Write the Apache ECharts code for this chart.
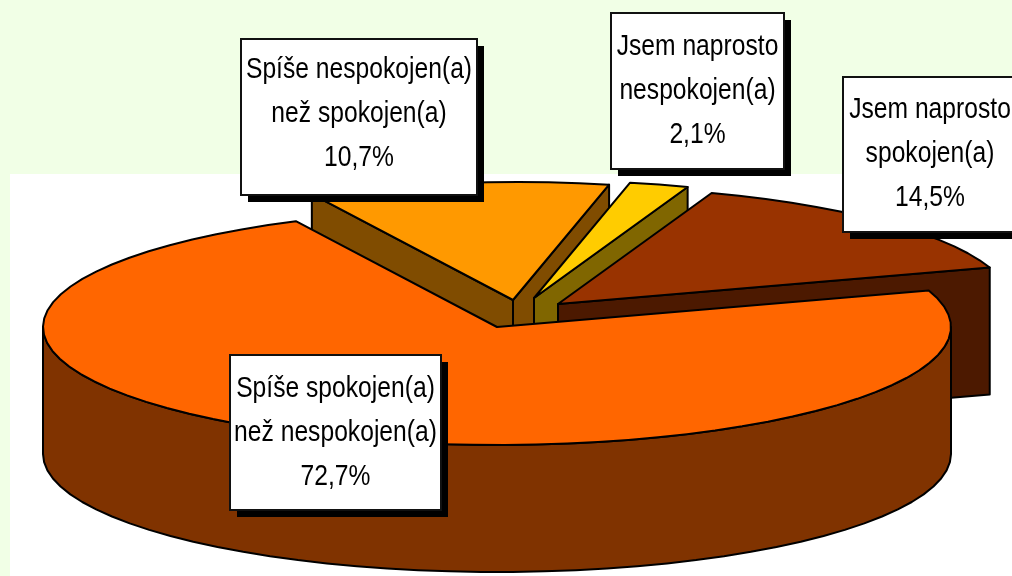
<!DOCTYPE html>
<html lang="en">
<head>
  <meta charset="UTF-8">
  <title>Spokojenost</title>
  <script src="https://cdn.jsdelivr.net/npm/echarts@6/dist/echarts.min.js"></script>
  <style>
    html, body, #main {
      margin: 0;
      padding: 0;
      height: 100%;
      overflow: hidden;
    }
  </style>
</head>
<body>
  <div id="main"></div>

  <script>
    // clockwise from the orange slice
    const categories = [
      "Spíše nespokojen(a)\nnež spokojen(a)",
      "Jsem naprosto\nnespokojen(a)",
      "Jsem naprosto\nspokojen(a)",
      "Spíše spokojen(a)\nnež nespokojen(a)"
    ];
    const percents = [10.7, 2.1, 14.5, 72.7];
    const topColors = ["#FF9900", "#FFCC00", "#993300", "#FF6600"];
    const wallColors = ["#804C00", "#806600", "#4C1900", "#803300"];

    // pie layout, pixels
    const centers = [[513, 300], [534, 298], [558, 304], [497, 327]];
    const radiusX = 454;
    const radiusY = 118;
    const depth = 127;
    const startAngle = 333.7;

    // label boxes: left, top, width, height, text shift
    const boxes = [
      [241, 39, 236, 156, -3],
      [611, 13, 173, 156, 0],
      [843, 77, 174, 155, -1],
      [230, 355, 211, 155, 0]
    ];

    function rim(center, deg) {
      const a = deg * Math.PI / 180;
      return [center[0] + radiusX * Math.sin(a), center[1] - radiusY * Math.cos(a)];
    }

    function arcPoints(center, from, to) {
      const pts = [];
      const steps = Math.max(2, Math.ceil((to - from) / 4));
      for (let i = 0; i <= steps; i++) {
        pts.push(rim(center, from + (to - from) * i / steps));
      }
      return pts;
    }

    function shape(points, fill) {
      return {
        type: 'polygon',
        shape: { points: points },
        style: { fill: fill, stroke: '#000', lineWidth: 2, lineJoin: 'round' }
      };
    }

    function drop(points) {
      return points.map(p => [p[0], p[1] + depth]);
    }

    function renderSlice(params, api) {
      const i = params.dataIndex;
      let from = startAngle;
      for (let k = 0; k < i; k++) from += percents[k] * 3.6;
      if (from >= 360) from -= 360;
      const to = from + api.value(0) * 3.6;
      const c = centers[i];
      const wall = wallColors[i];
      const children = [];

      // cut faces that look towards the viewer
      const faces = [];
      if (Math.sin(from * Math.PI / 180) < 0) faces.push(rim(c, from));
      if (Math.sin(to * Math.PI / 180) > 0) faces.push(rim(c, to));
      faces.forEach(p => {
        const top = [c, p];
        children.push(shape(top.concat(drop(top).reverse()), wall));
      });

      // outer wall, only the front half of the rim
      const a = Math.max(from, 90);
      const b = Math.min(to, 270);
      if (b > a) {
        const edge = arcPoints(c, a, b);
        children.push(shape(edge.concat(drop(edge).reverse()), wall));
      }

      children.push(shape([c].concat(arcPoints(c, from, to)), topColors[i]));
      return { type: 'group', children: children };
    }

    function renderLabel(params, api) {
      const i = params.dataIndex;
      const b = boxes[i];
      const value = String(api.value(0)).replace('.', ',') + '%';
      return {
        type: 'group',
        children: [
          { type: 'rect', shape: { x: b[0] + 7, y: b[1] + 7, width: b[2], height: b[3] }, style: { fill: '#000' } },
          { type: 'rect', shape: { x: b[0], y: b[1], width: b[2], height: b[3] }, style: { fill: '#fff', stroke: '#111', lineWidth: 2 } },
          {
            type: 'text',
            x: b[0] + b[2] / 2,
            y: b[1] + b[3] / 2 + b[4],
            scaleX: 0.85,
            style: {
              text: categories[i] + '\n' + value,
              fill: '#000',
              font: '29px "Liberation Sans"',
              lineHeight: 44,
              align: 'center',
              verticalAlign: 'middle'
            }
          }
        ]
      };
    }

    const chart = echarts.init(document.getElementById('main'));
    chart.setOption({
      animation: false,
      backgroundColor: '#F1FFE6',
      graphic: [{
        type: 'rect',
        z: -10,
        shape: { x: 10, y: 174, width: 1002, height: 402 },
        style: { fill: '#fff' }
      }],
      series: [
        { type: 'custom', coordinateSystem: 'none', renderItem: renderSlice, data: percents, z: 2 },
        { type: 'custom', coordinateSystem: 'none', renderItem: renderLabel, data: percents, z: 3 }
      ]
    });
  </script>
</body>
</html>
